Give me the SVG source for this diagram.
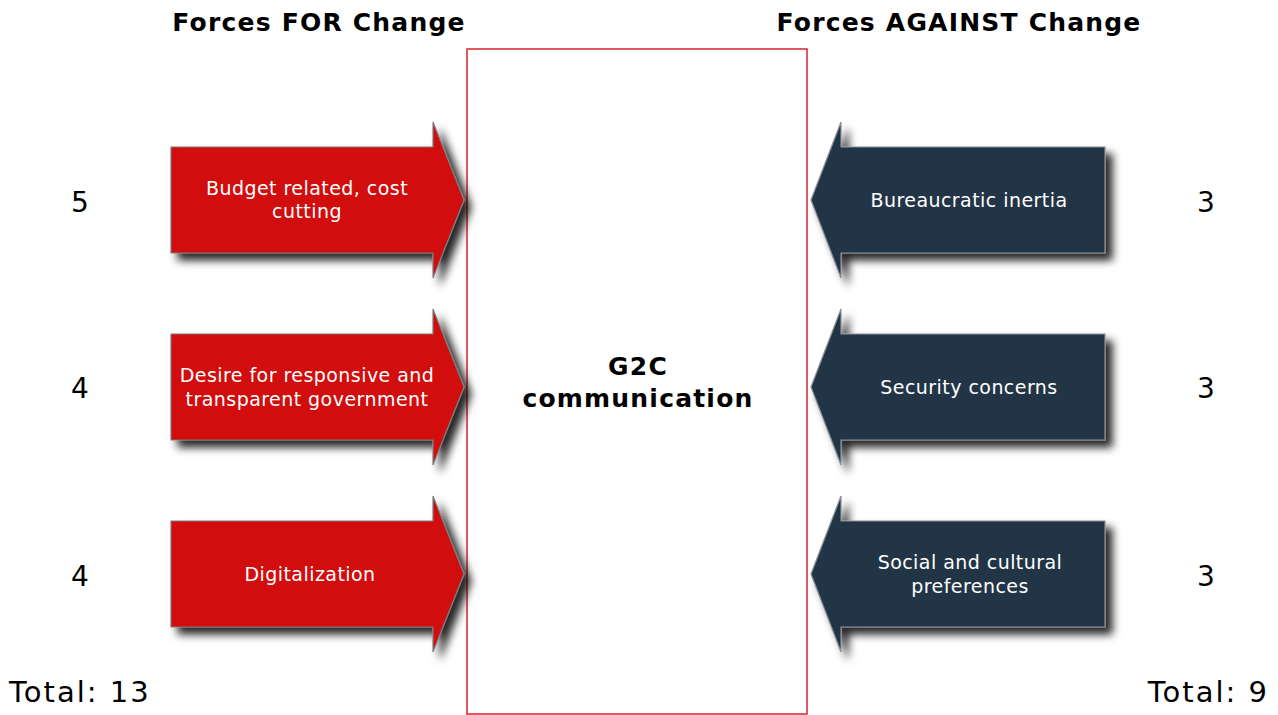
<svg xmlns="http://www.w3.org/2000/svg" width="1278" height="715" viewBox="0 0 1278 715">
<defs>
<filter id="sh" x="-20%" y="-20%" width="150%" height="150%">
<feDropShadow dx="7" dy="7" stdDeviation="4" flood-color="#000" flood-opacity="0.85"/>
</filter>
<path id="ra" d="M0,0 H262 V-25 L293,53 L262,131 V106 H0 Z"/>
<path id="la" d="M0,0 H-264 V-25 L-294,53 L-264,131 V106 H0 Z"/>
</defs>
<style>
text{font-family:"DejaVu Sans",Verdana,sans-serif}
.red{fill:#d10709;stroke:#7f7f7f;stroke-width:1.2}
.blue{fill:#223446;stroke:#8a8f96;stroke-width:1.2}
.lbl{fill:#fff;font-size:19px;letter-spacing:0.45px;text-anchor:middle}
.hdr{fill:#000;font-size:25px;font-weight:bold;letter-spacing:1.2px;text-anchor:middle}
.num{fill:#000;font-size:28px;text-anchor:middle}
.tot{fill:#000;font-size:29px;letter-spacing:2px}
</style>
<rect width="1278" height="715" fill="#fff"/>
<g id="headers">
<text class="hdr" x="319" y="31">Forces FOR Change</text>
<text class="hdr" x="959" y="31">Forces AGAINST Change</text>
</g>
<g id="center">
<rect x="467" y="49" width="340" height="665" fill="#fff" stroke="#d9232d" stroke-width="1.5"/>
<text class="hdr" x="638" y="375">G2C</text>
<text class="hdr" x="638" y="407">communication</text>
</g>
<g id="for1">
<use href="#ra" x="171" y="147" class="red" filter="url(#sh)"/>
<text class="lbl" x="307" y="195">Budget related, cost</text>
<text class="lbl" x="307" y="218">cutting</text>
<text class="num" x="80" y="212">5</text>
</g>
<g id="for2">
<use href="#ra" x="171" y="334" class="red" filter="url(#sh)"/>
<text class="lbl" x="307" y="382">Desire for responsive and</text>
<text class="lbl" x="307" y="406">transparent government</text>
<text class="num" x="80" y="398">4</text>
</g>
<g id="for3">
<use href="#ra" x="171" y="521" class="red" filter="url(#sh)"/>
<text class="lbl" x="310" y="581">Digitalization</text>
<text class="num" x="80" y="586">4</text>
</g>
<g id="against1">
<use href="#la" x="1105" y="147" class="blue" filter="url(#sh)"/>
<text class="lbl" x="969" y="207">Bureaucratic inertia</text>
<text class="num" x="1206" y="212">3</text>
</g>
<g id="against2">
<use href="#la" x="1105" y="334" class="blue" filter="url(#sh)"/>
<text class="lbl" x="969" y="394">Security concerns</text>
<text class="num" x="1206" y="398">3</text>
</g>
<g id="against3">
<use href="#la" x="1105" y="521" class="blue" filter="url(#sh)"/>
<text class="lbl" x="970" y="569">Social and cultural</text>
<text class="lbl" x="970" y="593">preferences</text>
<text class="num" x="1206" y="586">3</text>
</g>
<g id="totals">
<text class="tot" x="9" y="702">Total: 13</text>
<text class="tot" x="1269" y="702" text-anchor="end">Total: 9</text>
</g>
</svg>
